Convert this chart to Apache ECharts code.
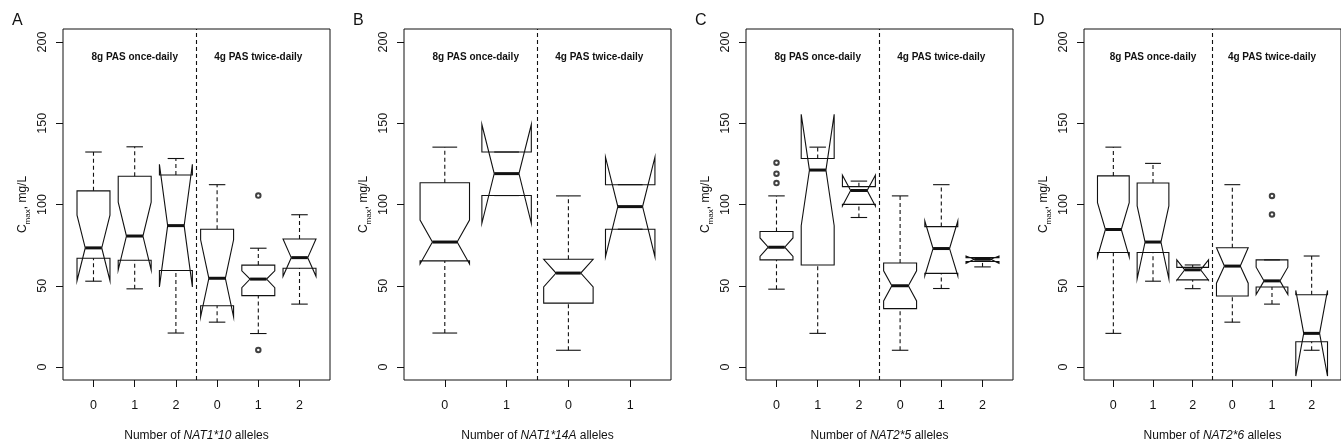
<!DOCTYPE html>
<html>
<head>
<meta charset="utf-8">
<script src="https://cdn.jsdelivr.net/npm/echarts@6/dist/echarts.min.js"></script>
<style>
html, body { margin: 0; padding: 0; background: #fff; }
#chart { width: 1341px; height: 447px; }
</style>
</head>
<body>
<div id="chart"></div>
<script>
// each box: [whiskerLow, q1, notchLow, median, notchHigh, q3, whiskerHigh]
const boxesA = [
  [52.8, 66.9, 53.1, 73.3, 93.5, 108.4, 132.3],
  [48.1, 65.7, 59.7, 80.6, 101.5, 117.4, 135.5],
  [20.9, 59.4, 49.3, 87.0, 124.7, 118.2, 128.3],
  [27.6, 37.7, 30.9, 54.6, 78.3, 84.8, 112.2],
  [20.6, 43.9, 48.8, 54.1, 59.2, 62.7, 73.1],
  [38.7, 60.8, 55.8, 67.3, 78.8, 78.8, 93.7]
];
const outliersA = [[5, 105.5], [5, 10.5]];

const boxesB = [
  [20.9, 65.3, 63.4, 76.9, 90.4, 113.4, 135.3],
  [105.5, 105.5, 88.4, 119.0, 149.2, 132.3, 132.3],
  [10.3, 39.3, 49.3, 57.8, 66.3, 66.3, 105.3],
  [84.8, 84.8, 67.9, 98.7, 129.1, 112.2, 112.2]
];
const outliersB = [];

const boxesC = [
  [47.9, 65.9, 68.0, 73.7, 79.4, 83.4, 105.3],
  [20.7, 62.8, 86.9, 121.2, 155.5, 128.3, 135.3],
  [92.0, 100.1, 99.1, 108.6, 118.0, 111.0, 114.4],
  [10.3, 35.9, 40.7, 50.0, 59.2, 64.0, 105.3],
  [48.3, 57.6, 56.2, 72.9, 89.8, 86.4, 112.2],
  [61.6, 64.9, 63.8, 66.3, 68.3, 67.3, 67.3]
];
const outliersC = [[1, 125.7], [1, 119.0], [1, 113.2]];

const boxesD = [
  [20.7, 70.5, 67.7, 84.6, 101.1, 117.6, 135.3],
  [52.8, 70.5, 54.2, 76.9, 99.1, 113.2, 125.3],
  [48.2, 53.6, 53.4, 59.8, 65.9, 61.3, 62.8],
  [27.6, 43.7, 51.6, 62.1, 73.4, 73.4, 112.2],
  [38.7, 49.2, 44.6, 53.0, 61.4, 65.9, 65.9],
  [10.3, 15.5, -5.6, 20.7, 47.1, 44.5, 68.3]
];
const outliersD = [[5, 105.3], [5, 93.9]];

const ticksA = ['0', '1', '2', '0', '1', '2'];
const ticksB = ['0', '1', '0', '1'];
const ticksC = ['0', '1', '2', '0', '1', '2'];
const ticksD = ['0', '1', '2', '0', '1', '2'];

const genes = ['NAT1*10', 'NAT1*14A', 'NAT2*5', 'NAT2*6'];
const letters = ['A', 'B', 'C', 'D'];
const groupNames = ['8g PAS once-daily', '4g PAS twice-daily'];
const yTicks = [0, 50, 100, 150, 200];

const font = '"Liberation Sans", Arial, Helvetica, sans-serif';
const ink = '#111';

const panels = [
  { boxes: boxesA, out: outliersA, ticks: ticksA },
  { boxes: boxesB, out: outliersB, ticks: ticksB },
  { boxes: boxesC, out: outliersC, ticks: ticksC },
  { boxes: boxesD, out: outliersD, ticks: ticksD }
];
const lefts = [63, 404, 746, 1084];

function renderBox(params, api) {
  const x = api.value(0);
  const lo = api.value(1), q1 = api.value(2), nl = api.value(3), med = api.value(4);
  const nh = api.value(5), q3 = api.value(6), hi = api.value(7);
  const w = 0.4, nw = 0.2, sw = 0.2;
  const p = (dx, y) => api.coord([x + dx, y]);
  const solid = { stroke: ink, lineWidth: 1.1, fill: null };
  const dashed = { stroke: ink, lineWidth: 1.1, fill: null, lineDash: [4, 3] };
  const seg = (a, b, style) => ({
    type: 'line',
    shape: { x1: a[0], y1: a[1], x2: b[0], y2: b[1] },
    style: style
  });
  const poly = [
    p(-w, q1), p(w, q1), p(w, nl), p(nw, med), p(w, nh), p(w, q3),
    p(-w, q3), p(-w, nh), p(-nw, med), p(-w, nl)
  ];
  return {
    type: 'group',
    children: [
      seg(p(0, lo), p(0, q1), dashed),
      seg(p(0, q3), p(0, hi), dashed),
      seg(p(-sw, lo), p(sw, lo), solid),
      seg(p(-sw, hi), p(sw, hi), solid),
      { type: 'polygon', shape: { points: poly }, style: solid },
      seg(p(-nw, med), p(nw, med), { stroke: ink, lineWidth: 3 })
    ]
  };
}

function renderText(params, api) {
  const pt = api.coord([api.value(0), api.value(1)]);
  return {
    type: 'text',
    x: pt[0], y: pt[1],
    style: {
      text: groupNames[api.value(2)],
      font: 'bold 10px ' + font,
      fill: ink,
      align: 'center',
      verticalAlign: 'middle'
    }
  };
}

const grid = [], xAxis = [], yAxis = [], series = [], graphic = [];

panels.forEach((pn, i) => {
  const n = pn.boxes.length;
  grid.push({
    left: lefts[i], top: 29, width: 267, height: 358,
    show: true, borderColor: ink, borderWidth: 1, backgroundColor: 'transparent'
  });
  const pos = pn.ticks.map((t, k) => k + 1);
  xAxis.push({
    gridIndex: i, type: 'value', position: 'bottom',
    min: 0.5 - 0.04 * n, max: n + 0.5 + 0.04 * n,
    axisLine: { show: false, onZero: false },
    splitLine: { show: false },
    axisTick: { show: true, length: 7, customValues: pos, lineStyle: { color: ink } },
    axisLabel: {
      customValues: pos, margin: 19, fontSize: 12.5, color: ink, fontFamily: font,
      formatter: v => pn.ticks[Math.round(v) - 1]
    },
    name: '{n|Number of }{i|' + genes[i] + '}{n| alleles}',
    nameLocation: 'middle', nameGap: 50,
    nameTextStyle: {
      rich: {
        n: { fontSize: 12, fontFamily: font, color: ink },
        i: { fontSize: 12, fontFamily: font, color: ink, fontStyle: 'italic' }
      }
    }
  });
  yAxis.push({
    gridIndex: i, type: 'value', position: 'left', min: -8, max: 208,
    axisLine: { show: false, onZero: false },
    splitLine: { show: false },
    axisTick: { show: true, length: 7, customValues: yTicks, lineStyle: { color: ink } },
    axisLabel: {
      customValues: yTicks, rotate: 90, margin: 14, fontSize: 12.5, color: ink, fontFamily: font
    },
    name: '{c|C}{s|max}{c|, mg/L}',
    nameLocation: 'middle', nameRotate: 90, nameGap: 31,
    nameTextStyle: {
      rich: {
        c: { fontSize: 12, lineHeight: 18, fontFamily: font, color: ink },
        s: { fontSize: 8, lineHeight: 9, fontFamily: font, color: ink, verticalAlign: 'bottom' }
      }
    }
  });
  series.push({
    type: 'custom', xAxisIndex: i, yAxisIndex: i, clip: false,
    renderItem: renderBox,
    data: pn.boxes.map((b, k) => [k + 1].concat(b)),
    markLine: {
      silent: true, symbol: 'none', animation: false,
      label: { show: false },
      lineStyle: { color: ink, width: 1.1, type: [4, 3] },
      data: [{ xAxis: n / 2 + 0.5 }]
    }
  });
  series.push({
    type: 'scatter', xAxisIndex: i, yAxisIndex: i,
    symbol: 'emptyCircle', symbolSize: 4.5,
    itemStyle: { color: ink, borderColor: ink, borderWidth: 0.8 },
    data: pn.out
  });
  series.push({
    type: 'custom', xAxisIndex: i, yAxisIndex: i,
    renderItem: renderText,
    data: [[(n / 2 + 1) / 2, 190.6, 0], [(n / 2 + 1) / 2 + n / 2, 190.6, 1]]
  });
  graphic.push({
    type: 'text', left: lefts[i] - 51, top: 13,
    style: { text: letters[i], font: '16px ' + font, fill: ink }
  });
});

const chart = echarts.init(document.getElementById('chart'));
chart.setOption({
  animation: false,
  backgroundColor: '#fff',
  grid, xAxis, yAxis, series, graphic
});
</script>
</body>
</html>
